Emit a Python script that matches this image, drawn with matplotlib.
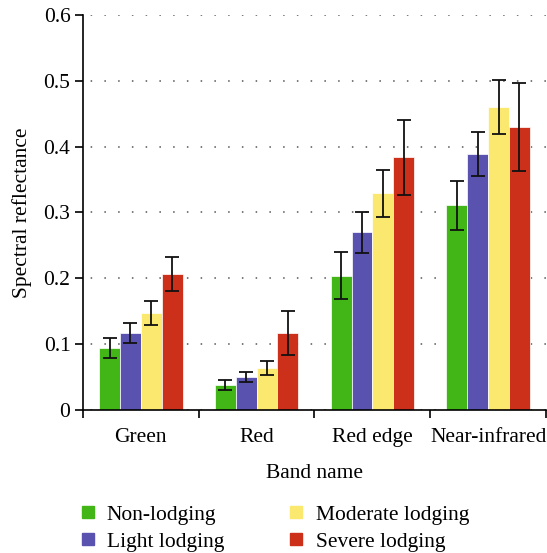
import matplotlib
matplotlib.use("Agg")
import matplotlib.pyplot as plt
import numpy as np
from matplotlib.lines import Line2D

categories = ["Green", "Red", "Red edge", "Near-infrared"]
series_names = ["Non-lodging", "Light lodging", "Moderate lodging", "Severe lodging"]
non_lodging = [0.094, 0.038, 0.204, 0.311]
light_lodging = [0.117, 0.050, 0.270, 0.389]
moderate_lodging = [0.147, 0.064, 0.329, 0.460]
severe_lodging = [0.207, 0.117, 0.384, 0.430]
non_err = [0.015, 0.008, 0.036, 0.037]
light_err = [0.015, 0.008, 0.031, 0.034]
moderate_err = [0.018, 0.011, 0.036, 0.041]
severe_err = [0.026, 0.033, 0.057, 0.067]
yticks = [0, 0.1, 0.2, 0.3, 0.4, 0.5, 0.6]
ytick_labels = ["0", "0.1", "0.2", "0.3", "0.4", "0.5", "0.6"]

colors = ["#41B616", "#5952AE", "#FBE86E", "#CC2F1A"]

plt.rcParams['font.family'] = ['Liberation Serif', 'DejaVu Serif']
fs = 15.5

fig = plt.figure(figsize=(5.47, 5.53), dpi=100)
ax = fig.add_axes([0.1517, 0.2586, 0.8465, 0.7143])

values = [non_lodging, light_lodging, moderate_lodging, severe_lodging]
errs = [non_err, light_err, moderate_err, severe_err]
x = np.arange(len(categories))
n = len(values)
group_w = 0.72
bw = group_w / n
for i, (v, e) in enumerate(zip(values, errs)):
    pos = x - group_w / 2 + bw * (i + 0.5)
    ax.bar(pos, v, width=bw, color=colors[i], edgecolor="white", linewidth=0.5, zorder=2)
    ax.errorbar(pos, v, yerr=e, fmt="none", ecolor="#111111", elinewidth=1.3,
                capsize=4.8, capthick=1.3, zorder=3)

ax.set_xlim(-0.5, len(categories) - 0.5)
ax.set_ylim(0, 0.6)
ax.set_yticks(yticks)
ax.set_yticklabels(ytick_labels, fontsize=fs)
ax.set_xticks(np.arange(len(categories) + 1) - 0.5)
ax.set_xticklabels([])
ax.set_xticks(x, minor=True)
ax.set_xticklabels(categories, minor=True, fontsize=fs)
ax.tick_params(axis="x", which="minor", length=0, pad=13)
ax.tick_params(axis="x", which="major", length=6, width=1.2, direction="out", color="black")
ax.tick_params(axis="y", length=6, width=1.2, direction="out", pad=3)
ax.yaxis.grid(True, linestyle=(4, (1, 8)), color="#555555", linewidth=1.1, zorder=0)
ax.set_axisbelow(True)
for s in ["top", "right"]:
    ax.spines[s].set_visible(False)
for s in ["left", "bottom"]:
    ax.spines[s].set_linewidth(1.2)
    ax.spines[s].set_color("black")

ax.set_xlabel("Band name", fontsize=fs, labelpad=12)
ax.set_ylabel("Spectral reflectance", fontsize=fs, labelpad=8)

handles = [Line2D([0], [0], marker="s", linestyle="none", markersize=8,
                  markerfacecolor=c, markeredgecolor=c) for c in colors]
fig.legend(handles, series_names, loc="upper left", bbox_to_anchor=(0.103, 0.122),
           ncol=2, frameon=False, fontsize=fs, handletextpad=0.35,
           columnspacing=2.8, labelspacing=0.3, handlelength=1.1)

fig.savefig("out.png", dpi=100)
